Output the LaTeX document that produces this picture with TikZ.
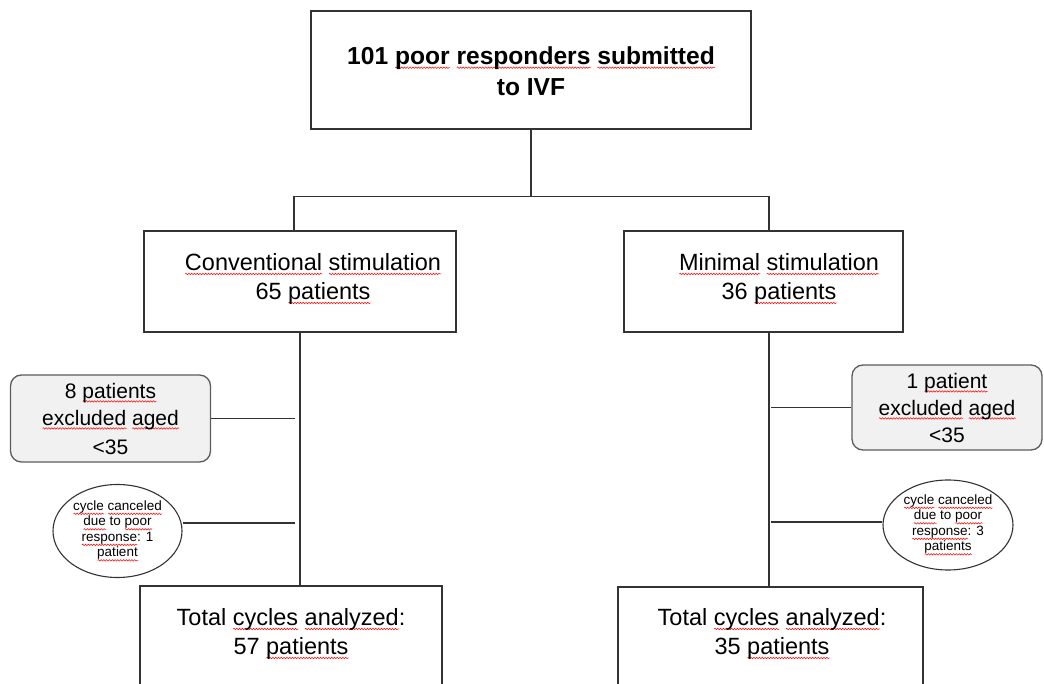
\documentclass[tikz,border=0pt]{standalone}
\usepackage{fontspec}
\setmainfont{Liberation Sans}
\usetikzlibrary{shapes.geometric,calc,decorations.pathmorphing}
\newsavebox\sqbox
\newlength\sqlen
\newcommand\sq[1]{\sbox\sqbox{#1}\setlength\sqlen{\wd\sqbox}\leavevmode\rlap{\raisebox{-3.4pt}{\tikz[x=1pt,y=1pt,baseline=0pt,sharp corners]\draw[red,solid,line width=0.5pt,decorate,decoration={snake,amplitude=0.75pt,segment length=2.8pt}] (0,0) -- (\sqlen,0);}}\usebox\sqbox}
\definecolor{boxfill}{HTML}{F1F1F1}
\definecolor{edge}{HTML}{333333}
\tikzset{
  box/.style={draw=edge, line width=1.3pt, rectangle, inner sep=0pt},
  rbox/.style={draw=edge!80, line width=1.3pt, rectangle, rounded corners=11pt, fill=boxfill, inner sep=0pt, align=center},
  oval/.style={draw=edge, line width=1.1pt, ellipse, inner sep=0pt, fill=white, align=center},
  txt/.style={align=center, inner sep=0pt},
  big/.style={font=\fontsize{23.5}{29}\selectfont},
  mid/.style={font=\fontsize{21}{27}\selectfont},
  tiny/.style={font=\fontsize{13.5}{15.5}\selectfont},
  conn/.style={draw=edge, line width=1.3pt},
  branch/.style={draw=edge, line width=1.1pt}
}
\begin{document}
\begin{tikzpicture}[x=1pt,y=-1pt]
\useasboundingbox (0,0) rectangle (1044,684);
\clip (0,0) rectangle (1044,684);
\fill[white] (0,0) rectangle (1044,684);
% top box
\node[box, minimum width=440pt, minimum height=118pt] (top) at (531,70) {};
\node[txt, font=\fontsize{24.6}{31}\selectfont\bfseries] (topT) at (531,71)
  {101 \sq{poor} \sq{responders} \sq{submitted}\\to IVF};
% arms
\node[box, minimum width=312pt, minimum height=101pt] (conv) at (300,281.5) {};
\node[txt, big] (convT) at (313,279) {\sq{Conventional} \sq{stimulation}\\65 \sq{patients}};
\node[box, minimum width=279pt, minimum height=101pt] (min) at (763.5,281.5) {};
\node[txt, big] (minT) at (779,279) {\sq{Minimal} \sq{stimulation}\\36 \sq{patients}};
% bottom boxes
\node[box, minimum width=302pt, minimum height=140pt] (tot1) at (291,656) {};
\node[txt, big] (tot1T) at (291,634) {Total \sq{cycles} \sq{analyzed}:\\57 \sq{patients}};
\node[box, minimum width=305pt, minimum height=140pt] (tot2) at (770.5,657) {};
\node[txt, big] (tot2T) at (772,634) {Total \sq{cycles} \sq{analyzed}:\\35 \sq{patients}};
% exclusions
\node[rbox, mid, minimum width=200pt, minimum height=87pt] (ex1) at (110.5,418.5)
  {8 \sq{patients}\\\sq{excluded} \sq{aged}\\[2pt]<35};
\node[rbox, mid, minimum width=190pt, minimum height=85pt] (ex2) at (947,407.5)
  {1 \sq{patient}\\\sq{excluded} \sq{aged}\\<35};
\node[oval, tiny, minimum width=129pt, minimum height=93pt] (el1) at (117.5,531)
  {\sq{cycle} \sq{canceled}\\\sq{due} to \sq{poor}\\\sq{response}: 1\\\sq{patient}};
\node[oval, tiny, minimum width=130pt, minimum height=90pt] (el2) at (948,525)
  {\sq{cycle} \sq{canceled}\\\sq{due} to \sq{poor}\\\sq{response}: 3\\\sq{patients}};
% connectors
\coordinate (j) at ($(top.south)+(0,67)$);
\draw[conn] (top.south) -- (j);
\draw[conn] ([xshift=-6pt]conv.north) |- (j) -| ([xshift=5.5pt]min.north);
\draw[conn] (conv.south) -- (conv.south |- tot1.north);
\draw[conn] ([xshift=5.5pt]min.south) -- ([xshift=5.5pt]min.south |- tot2.north);
\draw[branch] (ex1.east) -- ([xshift=-5pt]ex1.east -| conv.south);
\draw[branch] ([yshift=8pt]el1.east) -- ([yshift=8pt,xshift=-5pt]el1.east -| conv.south);
\draw[branch] (ex2.west) -- (ex2.west -| tot2.north);
\draw[branch] ([yshift=3pt]el2.west) -- ([yshift=3pt]el2.west -| tot2.north);
\end{tikzpicture}
\end{document}
